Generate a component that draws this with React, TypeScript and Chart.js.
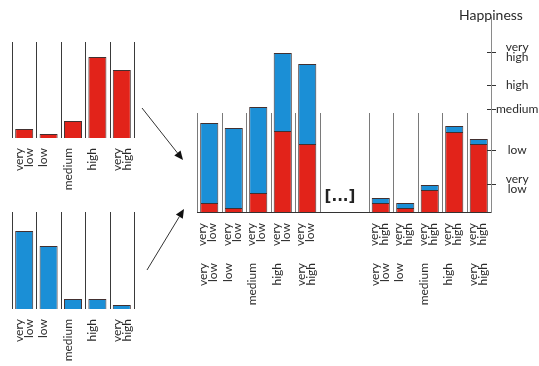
import React, { useEffect, useRef } from 'react';
import { Chart, registerables } from 'chart.js';

Chart.register(...registerables);

// ---------- data ----------
const levelLabels: (string | string[])[] = [['very', 'low'], 'low', 'medium', 'high', ['very', 'high']];
const topLeftValues = [9, 4, 17, 81, 68];
const bottomLeftValues = [78, 63, 10, 10, 4];

const mainRow1Labels: (string | string[])[] = [
  ['very', 'low'], ['very', 'low'], ['very', 'low'], ['very', 'low'], ['very', 'low'],
  '', '',
  ['very', 'high'], ['very', 'high'], ['very', 'high'], ['very', 'high'], ['very', 'high'],
];
const mainRow2Labels: (string | string[])[] = [
  ['very', 'low'], 'low', 'medium', 'high', ['very', 'high'],
  '', '',
  ['very', 'low'], 'low', 'medium', 'high', ['very', 'high'],
];
const mainRed = [9, 4, 19, 81, 68, null, null, 9, 4, 22, 80, 68];
const mainBlue = [80, 80, 86, 78, 80, null, null, 5, 5, 5, 6, 5];

const happinessTickValues = [28, 62, 103, 127, 160];
const happinessTickLabels: (string | string[])[] = [['very', 'low'], 'low', 'medium', 'high', ['very', 'high']];
const happinessTitle = 'Happiness';
const gapText = '[...]';

// ---------- styles ----------
const RED = '#e2231a';
const BLUE = '#1b8fd6';
const EDGE = 'rgba(45,25,25,0.9)';
const TEXT = '#2a2a2a';
const FONT = 'Lato';

const separatorPlugin = {
  id: 'separators',
  beforeDatasetsDraw(chart: any, _a: any, opts: any) {
    const x = chart.scales.x;
    const y = chart.scales.y;
    const n = x.getLabels().length;
    const ctx = chart.ctx;
    ctx.save();
    ctx.strokeStyle = opts.color;
    ctx.lineWidth = 1;
    const yb = y.getPixelForValue(0);
    const yt = y.getPixelForValue(opts.top);
    for (let i = 0; i <= n; i++) {
      if (opts.skip && opts.skip.includes(i)) continue;
      const px = Math.round(x.getPixelForValue(i - 0.5)) + 0.5;
      ctx.beginPath();
      ctx.moveTo(px, yb);
      ctx.lineTo(px, yt);
      ctx.stroke();
    }
    ctx.restore();
  },
};

const decorPlugin = {
  id: 'decor',
  afterDraw(chart: any, _a: any, opts: any) {
    const ctx = chart.ctx;
    const x = chart.scales.x;
    const y = chart.scales.y;
    ctx.save();
    // gap marker
    ctx.fillStyle = '#222';
    ctx.font = 'bold 15px "DejaVu Sans"';
    ctx.textAlign = 'center';
    ctx.textBaseline = 'middle';
    ctx.fillText(gapText, x.getPixelForValue(5.5) - 4, y.getPixelForValue(15));
    // axis title
    ctx.font = `14px ${FONT}`;
    ctx.fillStyle = TEXT;
    ctx.fillText(happinessTitle, y.left, 15);
    // inner half of the happiness tick marks (crossing the axis)
    ctx.strokeStyle = '#333';
    ctx.lineWidth = 1;
    for (const v of happinessTickValues) {
      const py = Math.round(y.getPixelForValue(v)) + 0.5;
      ctx.beginPath();
      ctx.moveTo(y.left - 4, py);
      ctx.lineTo(y.left, py);
      ctx.stroke();
    }
    // arrows
    ctx.strokeStyle = '#333';
    ctx.fillStyle = '#111';
    for (const a of opts.arrows) {
      const [x1, y1, x2, y2] = a;
      const ang = Math.atan2(y2 - y1, x2 - x1);
      const hl = 9, hw = 4;
      const bx = x2 - hl * Math.cos(ang), by = y2 - hl * Math.sin(ang);
      ctx.beginPath();
      ctx.moveTo(x1, y1);
      ctx.lineTo(bx, by);
      ctx.stroke();
      ctx.beginPath();
      ctx.moveTo(x2, y2);
      ctx.lineTo(bx + hw * Math.sin(ang), by - hw * Math.cos(ang));
      ctx.lineTo(bx - hw * Math.sin(ang), by + hw * Math.cos(ang));
      ctx.closePath();
      ctx.fill();
    }
    ctx.restore();
  },
};

const tickFont = { family: FONT, size: 12, lineHeight: 0.85 };

function smallConfig(values: number[], color: string, max: number, axisHeight: number): any {
  return {
    type: 'bar',
    data: {
      labels: levelLabels,
      datasets: [{
        data: values,
        backgroundColor: color,
        borderColor: EDGE,
        borderWidth: 1,
        barPercentage: 0.74,
        categoryPercentage: 1,
      }],
    },
    options: {
      responsive: false,
      animation: false,
      devicePixelRatio: 1,
      layout: { padding: { left: 12, right: 16, top: 42, bottom: 0 } },
      plugins: { legend: { display: false }, tooltip: { enabled: false }, separators: { color: '#3a3a3a', top: max } },
      scales: {
        x: {
          offset: true,
          grid: { display: false },
          border: { display: false },
          ticks: { minRotation: 90, maxRotation: 90, autoSkip: false, padding: 2, labelOffset: -5, font: tickFont, color: TEXT },
          afterFit: (s: any) => { s.height = axisHeight; },
        },
        y: { display: false, min: 0, max },
      },
    },
    plugins: [separatorPlugin],
  };
}

function useChart(ref: React.RefObject<HTMLCanvasElement>, make: () => any) {
  useEffect(() => {
    if (!ref.current) return;
    const c = new Chart(ref.current, make());
    return () => c.destroy();
  }, []);
}

export default function App() {
  const mainRef = useRef<HTMLCanvasElement>(null);
  const tlRef = useRef<HTMLCanvasElement>(null);
  const blRef = useRef<HTMLCanvasElement>(null);

  useChart(mainRef, () => ({
    type: 'bar',
    data: {
      labels: mainRow1Labels,
      datasets: [
        { data: mainRed, backgroundColor: RED, borderColor: EDGE, borderWidth: 1, barPercentage: 0.74, categoryPercentage: 1 },
        { data: mainBlue, backgroundColor: BLUE, borderColor: EDGE, borderWidth: 1, barPercentage: 0.74, categoryPercentage: 1 },
      ],
    },
    options: {
      responsive: false,
      animation: false,
      devicePixelRatio: 1,
      layout: { padding: { left: 197, top: 17, right: 0, bottom: 0 } },
      plugins: {
        legend: { display: false },
        tooltip: { enabled: false },
        separators: { color: '#7a7a7a', top: 99, skip: [6, 12] },
        decor: { arrows: [[142, 108, 183, 160], [147, 270, 184, 209]] },
      },
      scales: {
        x: {
          stacked: true,
          offset: true,
          weight: 1,
          grid: { display: false },
          border: { display: true, color: '#333', width: 1 },
          ticks: { minRotation: 90, maxRotation: 90, autoSkip: false, padding: 3, labelOffset: -7, font: tickFont, color: TEXT },
          afterFit: (s: any) => { s.height = 40; },
        },
        x2: {
          type: 'category',
          position: 'bottom',
          labels: mainRow2Labels,
          offset: true,
          weight: 2,
          grid: { display: false },
          border: { display: false },
          ticks: { minRotation: 90, maxRotation: 90, autoSkip: false, padding: 3, labelOffset: -6, font: tickFont, color: TEXT },
          afterFit: (s: any) => { s.height = 114; },
        },
        y: {
          position: 'right',
          stacked: true,
          min: 0,
          max: 195,
          afterBuildTicks: (s: any) => { s.ticks = happinessTickValues.map((v) => ({ value: v })); },
          afterFit: (s: any) => { s.width = 48; },
          grid: { drawOnChartArea: false, drawTicks: true, tickLength: 5, color: '#333' },
          border: { display: true, color: '#8a8a8a', width: 1 },
          ticks: {
            callback: (_v: any, i: number) => happinessTickLabels[i],
            crossAlign: 'center',
            padding: 0,
            font: tickFont,
            color: TEXT,
          },
        },
      },
    },
    plugins: [separatorPlugin, decorPlugin],
  }));

  useChart(tlRef, () => smallConfig(topLeftValues, RED, 96, 62));
  useChart(blRef, () => smallConfig(bottomLeftValues, BLUE, 97, 57));

  return (
    <div style={{ position: 'absolute', left: 0, top: 0, width: 539, height: 366, background: '#fff', overflow: 'hidden' }}>
      <canvas ref={mainRef} width={539} height={366} style={{ position: 'absolute', left: 0, top: 0, width: 539, height: 366 }} />
      <canvas ref={tlRef} width={150} height={200} style={{ position: 'absolute', left: 0, top: 0, width: 150, height: 200 }} />
      <canvas ref={blRef} width={150} height={196} style={{ position: 'absolute', left: 0, top: 170, width: 150, height: 196 }} />
    </div>
  );
}
